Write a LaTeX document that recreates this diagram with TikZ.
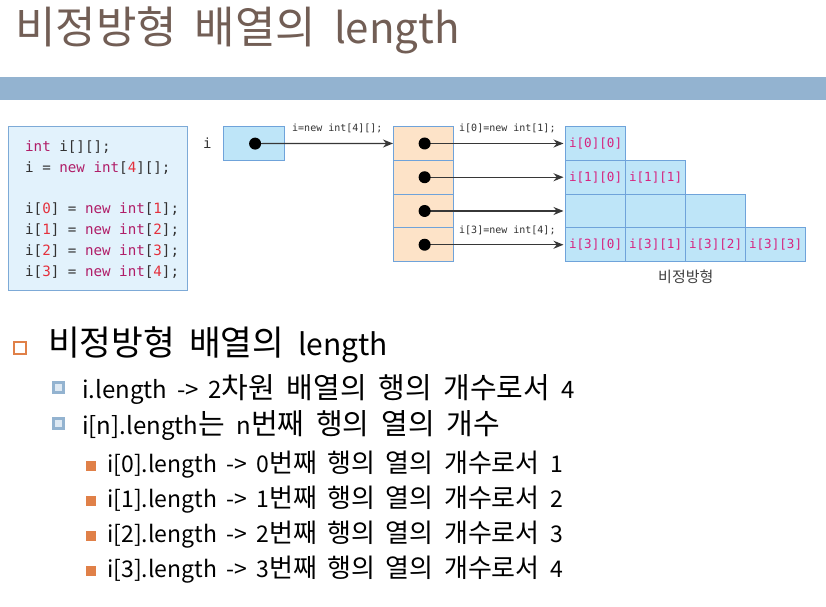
\documentclass[tikz,border=0pt]{standalone}
\usepackage{fontspec}
\setmainfont{Noto Sans CJK KR}[WordSpace=1.8]
\newfontfamily\monof{DejaVu Sans Mono}
\usetikzlibrary{arrows.meta}
\definecolor{titlec}{RGB}{114,94,85}
\definecolor{barc}{RGB}{147,179,208}
\definecolor{codefill}{RGB}{226,242,252}
\definecolor{codeline}{RGB}{125,170,215}
\definecolor{kwc}{RGB}{176,30,104}
\definecolor{numc}{RGB}{228,48,60}
\definecolor{codetxt}{RGB}{50,50,50}
\definecolor{cellfill}{RGB}{190,229,248}
\definecolor{cellline}{RGB}{111,163,218}
\definecolor{tanfill}{RGB}{253,227,200}
\definecolor{cellt}{RGB}{214,35,127}
\definecolor{arrc}{RGB}{55,55,55}
\definecolor{orangeb}{RGB}{224,128,72}
\definecolor{blueb}{RGB}{147,179,208}
\definecolor{bluebin}{RGB}{222,233,243}
\newcommand\cKw[1]{\textcolor{kwc}{#1}}
\newcommand\cNum[1]{\textcolor{numc}{#1}}
% Latin runs set smaller than Hangul, per level
\newcommand\latT[1]{{\fontsize{42}{48}\selectfont #1}}
\newcommand\latA[1]{{\fontsize{30}{36}\selectfont #1}}
\newcommand\latB[1]{{\fontsize{24}{28}\selectfont #1}}
\newcommand\latC[1]{{\fontsize{23}{28}\selectfont #1}}
\begin{document}
\begin{tikzpicture}[x=1pt,y=-1pt,
  txt/.style={anchor=base west,inner sep=0pt},
  codeln/.style={txt,text=codetxt,font=\monof\fontsize{14.2}{16}\selectfont},
  arrlbl/.style={txt,text=codetxt,font=\monof\fontsize{10}{12}\selectfont},
  cell/.style={draw=cellline,fill=cellfill,line width=1.2pt,minimum width=60,minimum height=33.75,anchor=north west,inner sep=0pt,text=cellt,font=\monof\fontsize{12.6}{14}\selectfont},
  tancell/.style={draw=cellline,fill=tanfill,line width=1.2pt,minimum width=60,minimum height=33.75,anchor=north west,inner sep=0pt},
  ptr/.style={draw=arrc,line width=1.2pt,-{Stealth[length=10pt,width=8pt]}},
  dot/.style={circle,fill=black,inner sep=0pt,minimum size=12},
  lvla/.style={txt,font=\fontsize{34.5}{40}\selectfont},
  lvlb/.style={txt,font=\fontsize{29}{34}\selectfont},
  lvlc/.style={txt,font=\fontsize{26}{30}\selectfont},
  bula/.style={draw=orangeb,line width=1.9pt,fill=white,minimum size=12,inner sep=0pt},
  bulb/.style={draw=blueb,line width=2.8pt,fill=bluebin,minimum size=10,inner sep=0pt},
  bulc/.style={fill=orangeb,minimum size=10,inner sep=0pt},
]
\useasboundingbox (0,0) rectangle (826,606);
\fill[white] (0,0) rectangle (826,606);

% title and bar
\node[txt,text=titlec,font=\fontsize{44}{50}\selectfont] (title) at (15,43) {비정방형 배열의 \latT{length}};
\fill[barc] (0,77) rectangle (826,100);

% code box
\node[draw=codeline,fill=codefill,line width=1.2pt,minimum width=179,minimum height=164,anchor=north west,inner sep=0pt] (code) at (8,125.5) {};
\node[codeln] (cl1) at (25,151) {\cKw{int} i[][];};
\node[codeln] (cl2) at (25,172) {i = \cKw{new} \cKw{int}[\cNum{4}][];};
\node[codeln] (cl3) at (25,213) {i[\cNum{0}] = \cKw{new} \cKw{int}[\cNum{1}];};
\node[codeln] (cl4) at (25,234) {i[\cNum{1}] = \cKw{new} \cKw{int}[\cNum{2}];};
\node[codeln] (cl5) at (25,255) {i[\cNum{2}] = \cKw{new} \cKw{int}[\cNum{3}];};
\node[codeln] (cl6) at (25,276) {i[\cNum{3}] = \cKw{new} \cKw{int}[\cNum{4}];};

% variable i
\node[txt,text=codetxt,font=\monof\fontsize{14}{16}\selectfont] (ilbl) at (203,148) {i};
\node[draw=cellline,fill=cellfill,line width=1.2pt,minimum width=61,minimum height=34,anchor=north west,inner sep=0pt] (ibox) at (223,126) {};

% tan array
\foreach \r in {0,1,2,3} {
  \node[tancell] (t\r) at (393,126+33.75*\r) {};
}

% 2D rows
\node[cell] (c00) at (565,126) {i[0][0]};
\node[cell] (c10) at (565,159.75) {i[1][0]};
\node[cell] (c11) at (625,159.75) {i[1][1]};
\node[cell] (c20) at (565,193.5) {};
\node[cell] (c21) at (625,193.5) {};
\node[cell] (c22) at (685,193.5) {};
\node[cell] (c30) at (565,227.25) {i[3][0]};
\node[cell] (c31) at (625,227.25) {i[3][1]};
\node[cell] (c32) at (685,227.25) {i[3][2]};
\node[cell] (c33) at (745,227.25) {i[3][3]};

% pointers
\coordinate (pi) at ([xshift=1pt]ibox.center);
\draw[ptr] (pi) -- (t0.west);
\foreach \r in {0,1,2,3} {
  \coordinate (p\r) at ([xshift=1pt]t\r.center);
  \draw[ptr] (p\r) -- ([xshift=-1.5pt]c\r0.west);
}
\node[dot] (di) at (pi) {};
\foreach \r in {0,1,2,3} { \node[dot] (d\r) at (p\r) {}; }

\node[arrlbl] (l1) at (292,131) {i=new int[4][];};
\node[arrlbl] (l2) at (459,131) {i[0]=new int[1];};
\node[arrlbl] (l3) at (459,233) {i[3]=new int[4];};
\node[txt,text=black!75,font=\fontsize{15}{18}\selectfont] (cap) at (658,282) {비정방형};

% bullets
\node[bula] (b1) at (20,348) {};
\node[lvla] (t1) at (48,355) {비정방형 배열의 \latA{length}};
\node[bulb] (b2) at (58.5,387.5) {};
\node[lvlb] (t2) at (82,398) {\latB{i.length -> 2}차원 배열의 행의 개수로서 \latB{4}};
\node[bulb] (b3) at (58.5,423.5) {};
\node[lvlb] (t3) at (82,434) {\latB{i[n].length}는 \latB{n}번째 행의 열의 개수};
\node[bulc] (b4) at (90.5,466) {};
\node[lvlc] (t4) at (107,472) {\latC{i[0].length -> 0}번째 행의 열의 개수로서 \latC{1}};
\node[bulc] (b5) at (90.5,501) {};
\node[lvlc] (t5) at (107,507) {\latC{i[1].length -> 1}번째 행의 열의 개수로서 \latC{2}};
\node[bulc] (b6) at (90.5,536) {};
\node[lvlc] (t6) at (107,542) {\latC{i[2].length -> 2}번째 행의 열의 개수로서 \latC{3}};
\node[bulc] (b7) at (90.5,571) {};
\node[lvlc] (t7) at (107,577) {\latC{i[3].length -> 3}번째 행의 열의 개수로서 \latC{4}};
\end{tikzpicture}
\end{document}
